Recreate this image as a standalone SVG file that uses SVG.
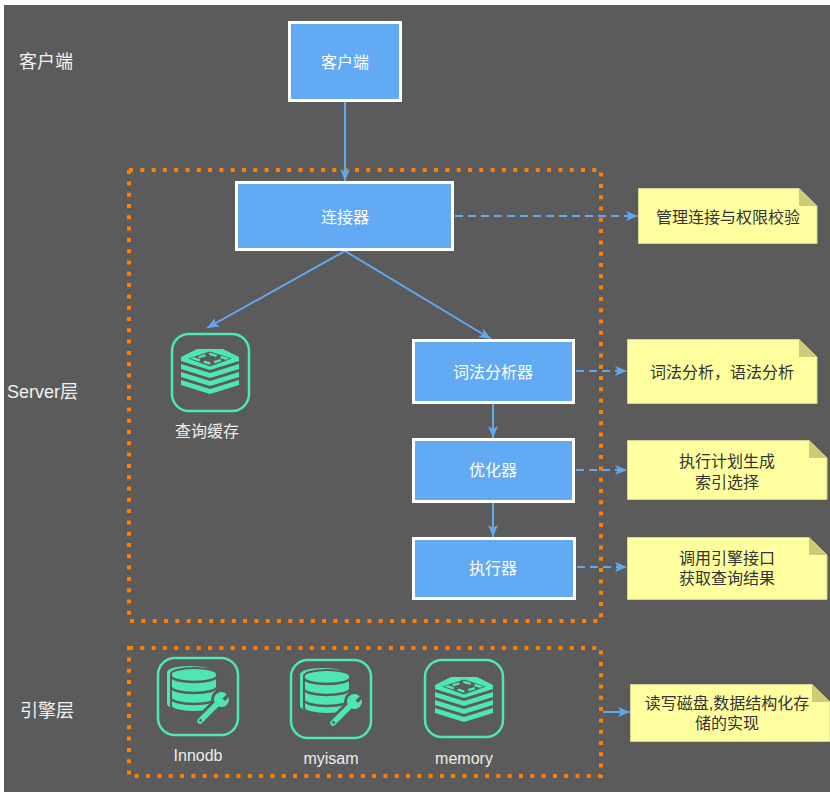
<svg xmlns="http://www.w3.org/2000/svg" xmlns:xlink="http://www.w3.org/1999/xlink" width="830" height="792" viewBox="0 0 830 792">
<style>
text{font-family:"Liberation Sans","Noto Sans CJK SC",sans-serif;dominant-baseline:central;text-anchor:middle}
.lbl{font-size:18px;fill:#f2f2f2;text-anchor:start}
.bt{font-size:16px;fill:#ffffff}
.nt{font-size:16px;fill:#333333}
.it{font-size:16px;fill:#eeeeee}
.box{fill:#63aaf4;stroke:#ffffff;stroke-width:3}
.note{fill:#ffff9f;stroke:#d6d48e;stroke-width:1}
.fold{fill:#cccc77}
.zone{fill:none;stroke:#ff8000;stroke-width:4;stroke-dasharray:4 7.3}
.ibox{fill:none;stroke:#4fe6b6;stroke-width:2.5}
.g{fill:#4fe6b6}
.cut{stroke:#5b5b5b;fill:none}
.ln{stroke:#60a8f0;stroke-width:2;fill:none}
.dash{stroke-dasharray:8 5}
</style>
<defs>
<marker id="ah" markerUnits="userSpaceOnUse" markerWidth="12" markerHeight="10" refX="12" refY="5" orient="auto">
<path d="M0,0 L12,5 L0,10 L3,5 Z" fill="#60a8f0"/>
</marker>
<g id="stack">
<polygon class="g" points="16,0 42,0 58,8 58,12 29,21 0,12 0,8"/>
<polygon points="29,2.5 51,9.5 29,17.5 7,9.5" fill="#5b5b5b"/>
<polygon points="29,5 45,9.5 29,14.5 13,9.5" fill="none" stroke="#4fe6b6" stroke-width="2.4" stroke-dasharray="7 4"/>
<polygon class="g" points="0,15 29,24 58,15 58,20 29,29 0,20"/>
<polygon class="g" points="0,23 29,32 58,23 58,28 29,37 0,28"/>
<polygon class="g" points="0,31 29,40 58,31 58,36 29,45 0,36"/>
</g>
<g id="db">
<path class="g" d="M9 14 A23 6 0 0 1 55 14 L55 46 A23 6 0 0 1 9 46 Z"/>
<path d="M13 16 A23 6 0 0 1 59 16 L59 48 A23 6 0 0 1 13 48 Z" fill="#4fe6b6" stroke="#5b5b5b" stroke-width="2"/>
<path class="cut" stroke-width="2.5" d="M13 18 A23 6 0 0 0 59 18 M13 29 A23 6 0 0 0 59 29 M13 40 A23 6 0 0 0 59 40"/>
<line x1="42" y1="63" x2="60" y2="45" stroke="#5b5b5b" stroke-width="11" stroke-linecap="round"/>
<circle cx="63.5" cy="41.5" r="10.5" fill="#5b5b5b"/>
<line x1="42" y1="63" x2="60" y2="45" stroke="#4fe6b6" stroke-width="5.5" stroke-linecap="round"/>
<circle cx="63.5" cy="41.5" r="7.5" fill="#4fe6b6"/>
<path d="M64.5 40.5 L71 34 L73.5 36.5 L67 43 Z" fill="#5b5b5b"/>
<circle cx="42.5" cy="62.5" r="1.4" fill="#5b5b5b"/>
</g>
</defs>
<rect x="0" y="0" width="830" height="792" fill="#ffffff"/>
<rect x="4" y="5" width="826" height="787" fill="#5b5b5b"/>

<g id="labels">
<text class="lbl" x="19" y="62">客户端</text>
<text class="lbl" x="7" y="392">Server层</text>
<text class="lbl" x="20" y="711">引擎层</text>
</g>

<g id="server-zone"><rect class="zone" x="129" y="170" width="472" height="451"/></g>
<g id="engine-zone"><rect class="zone" x="129" y="648" width="472" height="128"/></g>

<g id="connectors">
<line class="ln" x1="345" y1="101" x2="345" y2="181" marker-end="url(#ah)"/>
<line class="ln" x1="345" y1="251" x2="207" y2="328" marker-end="url(#ah)"/>
<line class="ln" x1="345" y1="251" x2="491" y2="339" marker-end="url(#ah)"/>
<line class="ln" x1="493" y1="404" x2="493" y2="438" marker-end="url(#ah)"/>
<line class="ln" x1="493" y1="502" x2="493" y2="537" marker-end="url(#ah)"/>
<line class="ln dash" x1="455" y1="216" x2="638" y2="216" marker-end="url(#ah)"/>
<line class="ln dash" x1="576" y1="371" x2="627" y2="371" marker-end="url(#ah)"/>
<line class="ln dash" x1="576" y1="470" x2="627" y2="470" marker-end="url(#ah)"/>
<line class="ln dash" x1="577" y1="567" x2="627" y2="567" marker-end="url(#ah)"/>
<line class="ln" x1="603" y1="712" x2="630" y2="712" marker-end="url(#ah)"/>
</g>

<g id="client"><rect class="box" x="289.5" y="22.5" width="111" height="78"/><text class="bt" x="345" y="62">客户端</text></g>
<g id="connector"><rect class="box" x="236.5" y="182.5" width="216" height="67"/><text class="bt" x="345" y="217">连接器</text></g>
<g id="lexer"><rect class="box" x="413.5" y="340.5" width="160" height="62"/><text class="bt" x="493" y="372">词法分析器</text></g>
<g id="optimizer"><rect class="box" x="413.5" y="439.5" width="160" height="62"/><text class="bt" x="493" y="470">优化器</text></g>
<g id="executor"><rect class="box" x="413.5" y="538.5" width="161" height="60"/><text class="bt" x="493" y="568">执行器</text></g>

<g id="query-cache">
<rect class="ibox" x="172" y="334" width="77" height="77" rx="17"/>
<use xlink:href="#stack" x="181" y="349"/>
<text class="it" x="207" y="431">查询缓存</text>
</g>
<g id="innodb">
<rect class="ibox" x="158" y="658" width="80" height="77" rx="17"/>
<use xlink:href="#db" x="158" y="658"/>
<text class="it" x="198" y="755">Innodb</text>
</g>
<g id="myisam">
<rect class="ibox" x="291" y="660" width="80" height="78" rx="17"/>
<use xlink:href="#db" x="291" y="660"/>
<text class="it" x="331" y="758">myisam</text>
</g>
<g id="memory">
<rect class="ibox" x="425" y="660" width="78" height="77" rx="17"/>
<use xlink:href="#stack" x="435" y="677"/>
<text class="it" x="464" y="758">memory</text>
</g>

<g id="note1">
<polygon class="note" points="638.5,188.5 799,188.5 817,206 817,243.5 638.5,243.5"/>
<polygon class="fold" points="799,188.5 799,206 817,206"/>
<text class="nt" x="728" y="217">管理连接与权限校验</text>
</g>
<g id="note2">
<polygon class="note" points="627.5,339.5 799,339.5 817,357 817,403.5 627.5,403.5"/>
<polygon class="fold" points="799,339.5 799,357 817,357"/>
<text class="nt" x="722" y="372">词法分析，语法分析</text>
</g>
<g id="note3">
<polygon class="note" points="627.5,440.5 809,440.5 827,458 827,499.5 627.5,499.5"/>
<polygon class="fold" points="809,440.5 809,458 827,458"/>
<text class="nt" x="727" y="461">执行计划生成</text>
<text class="nt" x="727" y="482">索引选择</text>
</g>
<g id="note4">
<polygon class="note" points="627.5,537.5 809,537.5 827,555 827,599.5 627.5,599.5"/>
<polygon class="fold" points="809,537.5 809,555 827,555"/>
<text class="nt" x="727" y="558">调用引擎接口</text>
<text class="nt" x="727" y="578">获取查询结果</text>
</g>
<g id="note5">
<polygon class="note" points="630.5,684.5 812,684.5 830,702 830,741.5 630.5,741.5"/>
<polygon class="fold" points="812,684.5 812,702 830,702"/>
<text class="nt" x="727" y="703">读写磁盘,数据结构化存</text>
<text class="nt" x="727" y="723">储的实现</text>
</g>
</svg>
